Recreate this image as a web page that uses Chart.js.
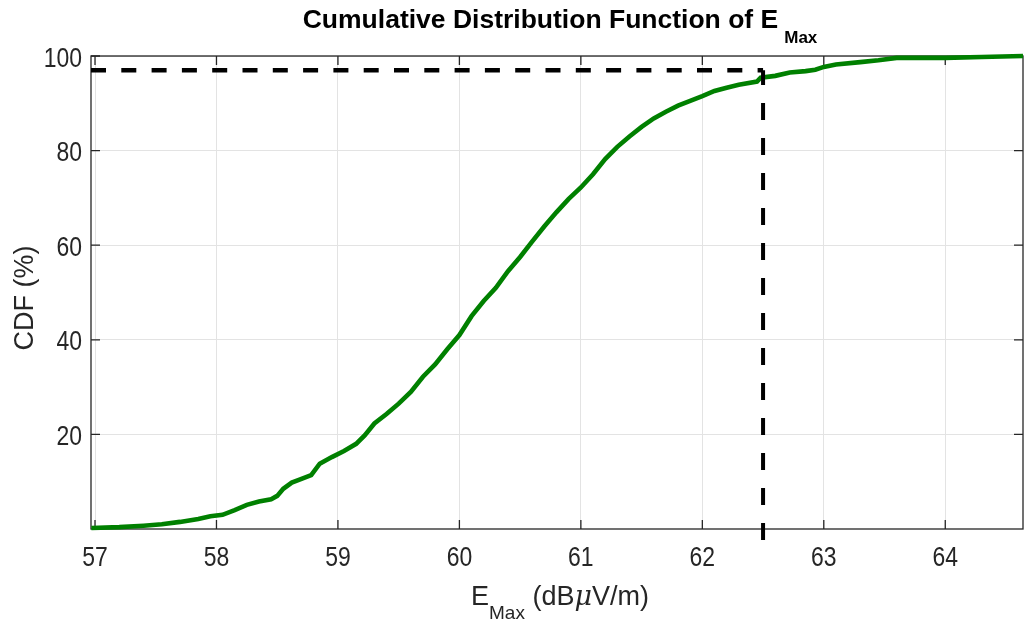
<!DOCTYPE html>
<html>
<head>
<meta charset="utf-8">
<script src="https://cdn.jsdelivr.net/npm/chart.js@4.4.1/dist/chart.umd.min.js"></script>
<style>
  html, body { margin: 0; padding: 0; background: #fff; }
  canvas { display: block; }
</style>
</head>
<body>
<canvas id="cdfChart" width="1024" height="621"></canvas>
<script>
// E_Max values (dBuV/m) and CDF (%)
const eMax = [56.97, 57.2, 57.4, 57.55, 57.7, 57.85, 57.95, 58.05, 58.15, 58.25,
  58.35, 58.45, 58.5, 58.55, 58.62, 58.7, 58.78, 58.85, 58.95, 59.05,
  59.15, 59.22, 59.3, 59.4, 59.5, 59.6, 59.7, 59.8, 59.9, 60.0,
  60.1, 60.2, 60.3, 60.4, 60.5, 60.6, 60.7, 60.8, 60.9, 61.0,
  61.1, 61.2, 61.3, 61.4, 61.5, 61.6, 61.7, 61.8, 61.9, 62.0,
  62.1, 62.2, 62.3, 62.45, 62.48, 62.6, 62.72, 62.85, 62.93, 63.0,
  63.1, 63.3, 63.45, 63.6, 64.0, 64.3, 64.64];
const cdf = [0.2, 0.4, 0.7, 1.0, 1.5, 2.1, 2.7, 3.0, 4.0, 5.1,
  5.8, 6.3, 7.0, 8.5, 9.8, 10.6, 11.4, 13.8, 15.2, 16.5,
  18.0, 19.8, 22.3, 24.3, 26.5, 29.0, 32.2, 34.8, 38.0, 41.0,
  45.0, 48.2, 51.0, 54.5, 57.5, 60.8, 64.0, 67.0, 69.8, 72.2,
  75.0, 78.2, 80.8, 83.0, 85.0, 86.8, 88.2, 89.5, 90.5, 91.5,
  92.6, 93.3, 93.9, 94.6, 95.4, 95.8, 96.5, 96.8, 97.1, 97.7,
  98.2, 98.7, 99.1, 99.6, 99.6, 99.8, 100];

const xTicks = [57, 58, 59, 60, 61, 62, 63, 64];
const yTicks = [20, 40, 60, 80, 100];
const xMin = 56.967, xMax = 64.64;
const yMin = 0, yMax = 100;

// 97% threshold marker (vertical one runs a bit under the axis, as in the figure)
const thresholdX = 62.5;
const thresholdY = 97;
const vLineStart = -2.3;

const axisColor = "#262626";
const sans = "'Liberation Sans', Arial, Helvetica, sans-serif";

function squeezedText(ctx, text, x, y, align, sx) {
    ctx.save();
    ctx.translate(x, y);
    ctx.scale(sx, 1);
    ctx.textAlign = align;
    ctx.fillText(text, 0, 0);
    ctx.restore();
}

const matlabFrame = {
    id: "matlabFrame",
    beforeDatasetsDraw(chart) {
        const { ctx, chartArea: a, scales } = chart;
        ctx.save();
        ctx.strokeStyle = axisColor;
        ctx.lineWidth = 1.3;
        ctx.strokeRect(a.left, a.top, a.right - a.left, a.bottom - a.top);
        const tl = 9;
        ctx.beginPath();
        xTicks.forEach(v => {
            const px = scales.x.getPixelForValue(v);
            ctx.moveTo(px, a.bottom); ctx.lineTo(px, a.bottom - tl);
            ctx.moveTo(px, a.top); ctx.lineTo(px, a.top + tl);
        });
        yTicks.forEach(v => {
            const py = scales.y.getPixelForValue(v);
            ctx.moveTo(a.left, py); ctx.lineTo(a.left + tl, py);
            ctx.moveTo(a.right, py); ctx.lineTo(a.right - tl, py);
        });
        ctx.stroke();

        // tick labels (the figure's font is a little condensed)
        ctx.fillStyle = axisColor;
        ctx.font = "27px " + sans;
        ctx.textBaseline = "alphabetic";
        xTicks.forEach(v => {
            squeezedText(ctx, String(v), scales.x.getPixelForValue(v), a.bottom + 37, "center", 0.85);
        });
        yTicks.forEach(v => {
            squeezedText(ctx, String(v), a.left - 9, scales.y.getPixelForValue(v) + 10.5, "right", 0.85);
        });
        ctx.restore();
    },
    afterDraw(chart) {
        const { ctx } = chart;
        ctx.save();
        ctx.fillStyle = "#000";
        ctx.textBaseline = "alphabetic";

        // title with subscript
        const tMain = "Cumulative Distribution Function of E";
        const tSub = "Max";
        const fMain = "bold 26.5px " + sans;
        const fSub = "bold 17px " + sans;
        ctx.font = fMain;
        const wMain = ctx.measureText(tMain).width;
        ctx.font = fSub;
        const wSub = ctx.measureText(tSub).width;
        let x = 560 - (wMain + wSub + 6) / 2;
        ctx.font = fMain;
        ctx.fillText(tMain, x, 28);
        ctx.font = fSub;
        ctx.fillText(tSub, x + wMain + 6, 42.5);

        // x axis label
        ctx.fillStyle = axisColor;
        const parts = [
            { t: "E", f: "27px " + sans, y: 605 },
            { t: "Max", f: "19px " + sans, y: 619 },
            { t: " (dB", f: "27px " + sans, y: 605 },
            { t: "\u03bc", f: "italic 27px 'DejaVu Serif', serif", y: 605 },
            { t: "V/m)", f: "27px " + sans, y: 605 }
        ];
        let total = 0;
        parts.forEach(p => { ctx.font = p.f; p.w = ctx.measureText(p.t).width; total += p.w; });
        x = 560 - total / 2;
        parts.forEach(p => { ctx.font = p.f; ctx.fillText(p.t, x, p.y); x += p.w; });

        // y axis label
        ctx.translate(33, 298);
        ctx.rotate(-Math.PI / 2);
        ctx.font = "27px " + sans;
        ctx.textAlign = "center";
        ctx.fillText("CDF (%)", 0, 0);
        ctx.restore();
    }
};

const ctx = document.getElementById("cdfChart").getContext("2d");
const cdfChart = new Chart(ctx, {
    type: "line",
    data: {
        datasets: [
            {
                label: "threshold h",
                data: [{ x: xMin, y: thresholdY }, { x: thresholdX, y: thresholdY }],
                borderColor: "#000",
                borderWidth: 4.5,
                borderDash: [15, 15.3],
                pointRadius: 0,
                clip: false
            },
            {
                label: "threshold v",
                data: [{ x: thresholdX, y: vLineStart }, { x: thresholdX, y: thresholdY }],
                borderColor: "#000",
                borderWidth: 4,
                borderDash: [17, 18],
                pointRadius: 0,
                clip: false
            },
            {
                label: "CDF",
                data: eMax.map((v, i) => ({ x: v, y: cdf[i] })),
                borderColor: "#008000",
                borderWidth: 4.6,
                pointRadius: 0,
                tension: 0,
                clip: false
            }
        ]
    },
    options: {
        responsive: false,
        animation: false,
        layout: { padding: { top: 56, right: 1, left: 0, bottom: 0 } },
        plugins: { legend: { display: false }, tooltip: { enabled: false } },
        scales: {
            x: {
                type: "linear",
                min: xMin,
                max: xMax,
                afterBuildTicks: s => { s.ticks = xTicks.map(v => ({ value: v })); },
                afterFit: s => { s.height = 92; },
                grid: { color: "#e3e3e3", lineWidth: 1, drawTicks: false },
                border: { display: false },
                ticks: { display: false }
            },
            y: {
                type: "linear",
                min: yMin,
                max: yMax,
                afterBuildTicks: s => { s.ticks = yTicks.map(v => ({ value: v })); },
                afterFit: s => { s.width = 91; },
                grid: { color: "#e3e3e3", lineWidth: 1, drawTicks: false },
                border: { display: false },
                ticks: { display: false }
            }
        }
    },
    plugins: [matlabFrame]
});
</script>
</body>
</html>
